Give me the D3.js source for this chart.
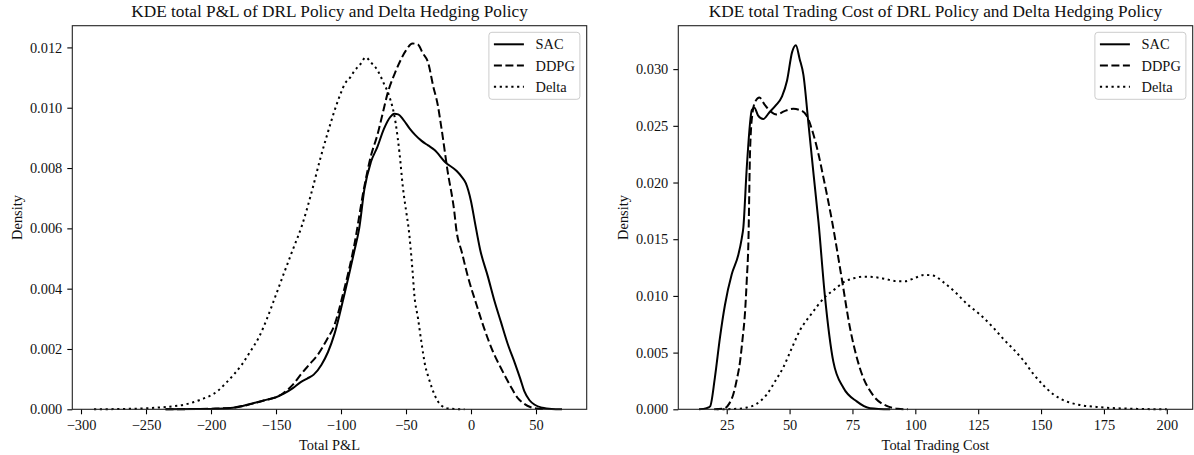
<!DOCTYPE html>
<html>
<head>
<meta charset="utf-8">
<script src="https://cdn.jsdelivr.net/npm/d3@7"></script>
<style>
  body { margin: 0; background: #fff; }
  svg, svg text { font-family: "Liberation Serif", "Times New Roman", serif; }
  svg { display: block; }
</style>
</head>
<body>
<svg id="chart"></svg>
<script>
const seriesNames = ['SAC', 'DDPG', 'Delta'];

// KDE of total P&L: [value, density]
const pnlSac = [
    [-235, 0], [-210, 0.00001], [-195, 0.00002], [-183, 0.00005], [-175, 0.00012], [-167, 0.00021],
    [-157, 0.00032], [-150, 0.0004], [-144, 0.00052], [-137, 0.0007], [-131, 0.0009], [-126, 0.00102],
    [-121, 0.00115], [-115, 0.00148], [-110, 0.0019], [-105, 0.0025], [-98, 0.0037], [-90, 0.0052],
    [-86, 0.006], [-82, 0.0073], [-77, 0.0082], [-72, 0.0087], [-67, 0.0093], [-62, 0.0097],
    [-59, 0.0098], [-56, 0.00978], [-52, 0.0096], [-47, 0.0093], [-43, 0.0091], [-38, 0.0089],
    [-33, 0.00875], [-28, 0.0086], [-20, 0.0082], [-11, 0.0079], [-7, 0.0077], [-4, 0.0075],
    [0, 0.0069], [3, 0.0062], [7, 0.0053], [13, 0.0044], [18, 0.0036], [23, 0.0029], [28, 0.0022],
    [34, 0.0015], [38, 0.001], [41, 0.0006], [45, 0.0003], [49, 0.00015], [55, 0.00005],
    [62, 0.00001], [70, 0]
];
const pnlDdpg = [
    [-235, 0], [-200, 0.00002], [-183, 0.00005], [-167, 0.0002], [-157, 0.00032], [-150, 0.0004],
    [-144, 0.00055], [-137, 0.00082], [-131, 0.00115], [-124, 0.0015], [-118, 0.0018], [-111, 0.0023],
    [-105, 0.0028], [-98, 0.0039], [-90, 0.0054], [-82, 0.0074], [-77, 0.0084], [-72, 0.0091],
    [-68, 0.0098], [-64, 0.0105], [-59, 0.0111], [-55, 0.0115], [-50, 0.0119], [-45, 0.01213],
    [-41, 0.0121], [-37, 0.0118], [-33, 0.0115], [-29, 0.0107], [-25.6, 0.0101], [-23, 0.0094],
    [-18, 0.0079], [-12.7, 0.0065], [-11.4, 0.006], [-7, 0.0052], [-2.4, 0.0044], [4, 0.0035],
    [10, 0.0027], [17, 0.0019], [23, 0.00137], [30, 0.0008], [36, 0.00037], [41, 0.00018],
    [46, 0.00007], [52, 0.00002], [58, 0]
];
const pnlDelta = [
    [-290, 0], [-270, 0.00001], [-252, 0.00003], [-240, 0.00006], [-234, 0.00008], [-221, 0.00015],
    [-208, 0.00032], [-195, 0.0006], [-189, 0.00085], [-182.5, 0.00115], [-176, 0.0015], [-170, 0.0019],
    [-163, 0.0024], [-157, 0.003], [-150, 0.0038], [-144, 0.0045], [-137, 0.0053], [-130, 0.0061],
    [-122, 0.0073], [-116, 0.0083], [-110, 0.0092], [-105, 0.0099], [-100, 0.0105], [-97, 0.0108],
    [-93, 0.011], [-90, 0.0112], [-85, 0.01145], [-81, 0.01167], [-77, 0.0115], [-72, 0.01125],
    [-67, 0.0108], [-63, 0.0104], [-58, 0.0095], [-55, 0.0085], [-52.5, 0.0074], [-50, 0.0066],
    [-48, 0.006], [-45, 0.0046], [-43.6, 0.0038], [-40.7, 0.003], [-38.4, 0.0023], [-35, 0.0014],
    [-33, 0.0011], [-30, 0.0007], [-26, 0.0003], [-22, 0.0001], [-19, 0.00004], [-12, 0.00001], [-5, 0]
];

// KDE of total trading cost: [value, density]
const costSac = [
    [14, 0], [17, 0.0001], [18.4, 0.00026], [20.3, 0.0028], [22.3, 0.0063], [24.3, 0.0092],
    [27, 0.0119], [29.6, 0.0136], [31, 0.0151], [31.6, 0.016], [33, 0.0214], [35, 0.0264],
    [36, 0.0266], [37.5, 0.0259], [39.5, 0.0256], [42, 0.0262], [44.5, 0.0268], [47, 0.0276],
    [49, 0.029], [51, 0.0315], [52.5, 0.0321], [54, 0.0309], [55.5, 0.0295], [57.5, 0.0252],
    [59.5, 0.0208], [61.5, 0.0165], [64, 0.0101], [67.4, 0.0042], [71.4, 0.0019], [76.7, 0.0007],
    [82, 0.0001], [90, 0]
];
const costDdpg = [
    [20, 0], [24.3, 0.0001], [26, 0.0005], [27.6, 0.0013], [29, 0.0026], [30.3, 0.0042],
    [31.3, 0.0062], [32.3, 0.0086], [33, 0.0115], [33.6, 0.0145], [34.3, 0.0229], [35.3, 0.0262],
    [36.5, 0.0272], [38, 0.0275], [40, 0.0269], [42.2, 0.0263], [44.9, 0.026], [48, 0.0263],
    [51.5, 0.0265], [54, 0.0264], [56.8, 0.0259], [59.4, 0.0243], [61.5, 0.0225], [63.4, 0.0205],
    [66.8, 0.0167], [70.7, 0.0116], [74, 0.0072], [78, 0.0036], [83.3, 0.0012], [88.6, 0.0003],
    [93, 0.00005], [97, 0]
];
const costDelta = [
    [21, 0], [28, 0.00003], [33, 0.00015], [37, 0.0005], [40.9, 0.0013], [44.6, 0.0026],
    [47.5, 0.0037], [50.7, 0.0053], [54.2, 0.007], [58.3, 0.0083], [61, 0.0091], [64.1, 0.0099],
    [68, 0.0106], [71.4, 0.0112], [75.5, 0.01155], [79.3, 0.0117], [84, 0.01165], [88, 0.0115],
    [92.6, 0.0113], [96, 0.0113], [100, 0.0116], [103.5, 0.01185], [107, 0.0118], [111.2, 0.0112],
    [116, 0.0103], [120.5, 0.0093], [126, 0.0083], [131, 0.0072], [135, 0.0062], [139, 0.0053],
    [143, 0.0043], [147, 0.0031], [151, 0.0021], [155, 0.0013], [160, 0.0007], [165, 0.0004],
    [173.5, 0.00018], [186, 0.00005], [200, 0]
];

const pnlTicksX = [-300, -250, -200, -150, -100, -50, 0, 50];
const pnlTicksY = [0, 0.002, 0.004, 0.006, 0.008, 0.010, 0.012];
const costTicksX = [25, 50, 75, 100, 125, 150, 175, 200];
const costTicksY = [0, 0.005, 0.010, 0.015, 0.020, 0.025, 0.030];

const svgWidth = 1194;
const svgHeight = 455;
const plotTop = 25.7;
const plotW = 514.4;
const plotH = 383.6;
const serif = '"Liberation Serif", "Times New Roman", serif';
const dashes = [null, '8,3.5', '2.2,3.6'];

const svg = d3.select('#chart')
    .attr('width', svgWidth)
    .attr('height', svgHeight);

function drawPanel(left, opt) {
    const g = svg.append('g').attr('transform', `translate(${left}, ${plotTop})`);

    const x = d3.scaleLinear().domain(opt.xDomain).range([0, plotW]);
    const y = d3.scaleLinear().domain(opt.yDomain).range([plotH, 0]);

    const line = d3.line()
        .x(d => x(d[0]))
        .y(d => y(d[1]))
        .curve(d3.curveMonotoneX);

    opt.series.forEach((s, i) => {
        g.append('path')
            .datum(s)
            .attr('d', line)
            .attr('fill', 'none')
            .attr('stroke', '#000')
            .attr('stroke-width', 2)
            .attr('stroke-dasharray', dashes[i]);
    });

    const xAxis = g.append('g')
        .attr('transform', `translate(0, ${plotH})`)
        .call(d3.axisBottom(x).tickValues(opt.xTicks).tickSize(5).tickPadding(5).tickFormat(d3.format('d')));
    const yAxis = g.append('g')
        .call(d3.axisLeft(y).tickValues(opt.yTicks).tickSize(5).tickPadding(5).tickFormat(d3.format('.3f')));

    [xAxis, yAxis].forEach(a => {
        a.attr('font-family', null).attr('font-size', null);
        a.select('.domain').remove();
        a.selectAll('line').attr('stroke', '#000').attr('stroke-width', 1.1);
        a.selectAll('text')
            .style('font-family', serif)
            .style('font-size', '14.4px')
            .attr('fill', '#111');
    });

    g.append('rect')
        .attr('width', plotW)
        .attr('height', plotH)
        .attr('fill', 'none')
        .attr('stroke', '#222')
        .attr('stroke-width', 1.1);

    g.append('text')
        .attr('x', plotW / 2)
        .attr('y', -8.4)
        .attr('text-anchor', 'middle')
        .attr('font-size', '17.3px')
        .attr('fill', '#111')
        .text(opt.title);

    g.append('text')
        .attr('x', plotW / 2)
        .attr('y', plotH + 41)
        .attr('text-anchor', 'middle')
        .attr('font-size', '14.4px')
        .attr('fill', '#111')
        .text(opt.xLabel);

    g.append('text')
        .attr('transform', 'rotate(-90)')
        .attr('x', -plotH / 2)
        .attr('y', -50.3)
        .attr('text-anchor', 'middle')
        .attr('font-size', '14.4px')
        .attr('fill', '#111')
        .text('Density');

    // legend
    const lx = plotW - 6.8 - 91;
    const legend = g.append('g').attr('transform', `translate(${lx}, 6.6)`);
    legend.append('rect')
        .attr('width', 91)
        .attr('height', 67)
        .attr('rx', 3)
        .attr('fill', '#fff')
        .attr('fill-opacity', 0.8)
        .attr('stroke', '#ccc');
    seriesNames.forEach((name, i) => {
        const cy = 12 + i * 21.2;
        legend.append('line')
            .attr('x1', 5).attr('x2', 35)
            .attr('y1', cy).attr('y2', cy)
            .attr('stroke', '#000')
            .attr('stroke-width', 2)
            .attr('stroke-dasharray', dashes[i]);
        legend.append('text')
            .attr('x', 46.7)
            .attr('y', cy)
            .attr('dy', '0.35em')
            .attr('font-size', '14.4px')
            .attr('fill', '#111')
            .text(name);
    });
}

drawPanel(72.3, {
    series: [pnlSac, pnlDdpg, pnlDelta],
    xDomain: [-306.7, 89],
    yDomain: [0, 0.01272],
    xTicks: pnlTicksX,
    yTicks: pnlTicksY,
    title: 'KDE total P&L of DRL Policy and Delta Hedging Policy',
    xLabel: 'Total P&L'
});

drawPanel(678.3, {
    series: [costSac, costDdpg, costDelta],
    xDomain: [5.75, 210.3],
    yDomain: [0, 0.03383],
    xTicks: costTicksX,
    yTicks: costTicksY,
    title: 'KDE total Trading Cost of DRL Policy and Delta Hedging Policy',
    xLabel: 'Total Trading Cost'
});
</script>
</body>
</html>
